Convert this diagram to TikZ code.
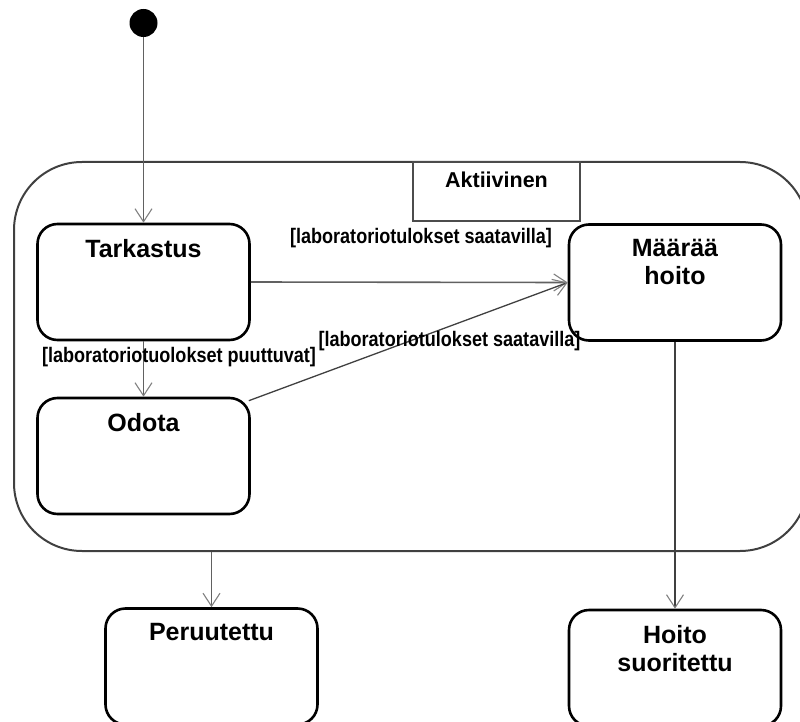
\documentclass[tikz,border=0pt]{standalone}
\usepackage{fontspec}
\setmainfont{Liberation Sans}
\newfontfamily\guardfont[FakeStretch=0.86]{Liberation Sans Bold}
\usetikzlibrary{arrows.meta,calc}

\newcommand{\namefont}{\fontsize{25}{28}\selectfont\bfseries}
\newcommand{\tabfont}{\fontsize{21.5}{24}\selectfont\bfseries}
\newcommand{\guardtext}{\guardfont\fontsize{21}{24}\selectfont}

\begin{document}
\begin{tikzpicture}[x=1pt,y=-1pt,
  statebox/.style={draw=black, line width=2.6pt, rounded corners=20pt,
    inner sep=0pt, minimum width=212pt, minimum height=116pt},
  statename/.style={anchor=north, inner sep=0pt, yshift=-16pt,
    font=\namefont, align=center},
  superstate/.style={draw=black!75, line width=2pt, rounded corners=68pt,
    inner sep=0pt, minimum width=794pt, minimum height=389pt},
  tabbox/.style={draw=black!70, line width=1.8pt, inner sep=0pt,
    minimum width=167pt, minimum height=59pt},
  tabname/.style={anchor=north, inner sep=0pt, yshift=-11pt, font=\tabfont},
  initial/.style={circle, fill=black, inner sep=0pt, minimum size=28pt},
  conn/.style={draw=black!62, line width=1.6pt,
    -{Straight Barb[length=13pt,width=17pt,line width=1.1pt,color=black!50]}},
  guard/.style={inner sep=0pt, font=\guardtext}
]
\useasboundingbox (0,0) rectangle (800,722);
\clip (0,0) rectangle (800,722);

% composite state with its name tab
\node[superstate] (frame) at (411,356.5) {};
\node[tabbox, label={[tabname]north:Aktiivinen}] (tab) at (496.5,191.5) {};

% initial pseudostate and simple states
\node[initial] (init) at (143.5,23) {};
\node[statebox, label={[statename]north:Tarkastus}] (tark) at (143.5,282) {};
\node[statebox, label={[statename]north:Odota}] (odota) at (143.5,456) {};
\node[statebox, label={[statename]north:{Määrää\\hoito}}] (maara) at (675,282.5) {};
\node[statebox, label={[statename]north:Peruutettu}] (peru) at (211.5,666.5) {};
\node[statebox, label={[statename]north:{Hoito\\suoritettu}}] (hoito) at (675,668) {};

% transitions
\coordinate (odne) at ($(odota.north east)+(-2,4)$);
\draw[conn] (init) -- (tark.north);
\draw[conn] (tark.east) -- (maara.west);
\draw[conn] (tark.south) -- (odota.north);
\draw[conn, draw=black!75, line width=1.3pt] (odne) -- (maara.west);
\draw[conn] (frame.south -| peru.north) -- (peru.north);
\draw[conn, draw=black!75] (maara.south) -- (hoito.north);

% guard conditions
\node[guard] (g1) at (421,238.5) {[laboratoriotulokset saatavilla]};
\node[guard] (g2) at (449.5,341) {[laboratoriotulokset saatavilla]};
\node[guard] (g3) at (179,357) {[laboratoriotuolokset puuttuvat]};
\end{tikzpicture}
\end{document}
